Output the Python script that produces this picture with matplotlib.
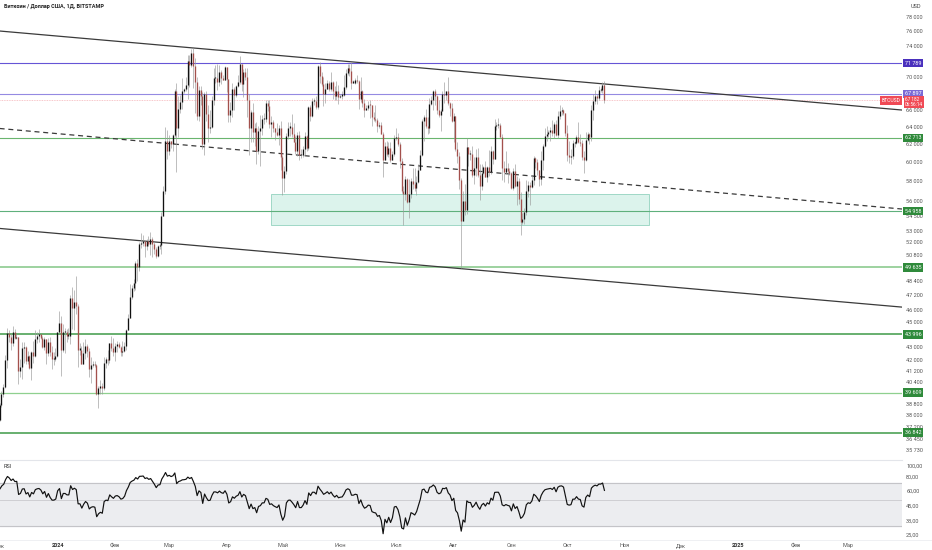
import numpy as np
import pandas as pd
import matplotlib
matplotlib.use("Agg")
import matplotlib.pyplot as plt
import matplotlib.dates as mdates
from matplotlib.patches import Rectangle
from matplotlib.ticker import NullLocator
from matplotlib.transforms import blended_transform_factory

plt.rcParams['font.family'] = ['Roboto', 'DejaVu Sans']

# ---------------- DATA (prices in thousands USD) ----------------
title = "Биткоин / Доллар США, 1Д, BITSTAMP"
first_day = "2023-12-01"

# November 2023 closes (only used to warm up the RSI)
warmup_closes = [35.4, 34.9, 34.7, 35.1, 35.0, 35.0, 35.4, 35.6, 36.7, 37.3, 37.1, 37.1, 36.5, 35.5, 37.8,
                 36.2, 36.6, 36.6, 37.4, 37.5, 35.8, 37.4, 37.3, 37.7, 37.8, 37.5, 37.2, 37.8, 37.9, 37.7]

closes = [
    # Dec 2023
    38.7, 39.5, 40.0, 42.0, 44.1, 43.8, 43.3, 44.2, 43.7, 43.8, 41.2, 41.5, 42.9, 43.0, 41.9, 42.3, 41.4, 42.6, 42.3, 43.6, 43.9, 44.0, 43.7, 43.0, 43.6, 42.5, 43.4, 42.6, 42.1, 42.1, 42.3,
    # Jan 2024
    44.2, 44.9, 42.8, 44.2, 44.2, 43.9, 43.9, 47.0, 46.1, 46.6, 46.3, 42.8, 42.8, 41.7, 42.5, 43.1, 42.7, 41.3, 41.6, 41.7, 41.6, 39.5, 39.9, 40.1, 39.9, 41.8, 42.1, 42.0, 43.3, 42.9, 42.6,
    # Feb
    43.1, 43.2, 43.0, 42.6, 42.7, 43.1, 44.3, 45.3, 47.1, 47.8, 48.3, 50.0, 49.7, 51.8, 51.9, 52.1, 51.6, 52.1, 51.8, 52.3, 51.8, 51.3, 50.7, 51.6, 51.7, 54.5, 57.0, 62.4, 61.2,
    # Mar
    62.4, 62.0, 63.1, 68.3, 63.8, 66.1, 66.9, 68.3, 68.5, 69.0, 72.1, 71.5, 73.1, 71.4, 69.4, 65.3, 68.4, 67.6, 62.0, 67.9, 65.5, 63.8, 64.0, 67.2, 69.9, 69.9, 69.4, 70.7, 69.9, 69.6, 71.3,
    # Apr
    69.7, 65.4, 66.0, 68.5, 67.8, 68.9, 69.4, 71.6, 69.1, 70.6, 70.0, 67.1, 63.9, 65.7, 63.4, 63.8, 61.3, 63.5, 63.8, 64.9, 64.9, 66.8, 66.4, 64.3, 64.5, 63.8, 63.4, 63.1, 63.8, 60.6,
    # May
    58.3, 59.1, 62.9, 63.9, 64.0, 63.2, 62.3, 61.2, 63.1, 60.8, 60.8, 61.5, 62.9, 61.6, 66.3, 65.2, 67.0, 67.0, 66.3, 71.4, 70.1, 69.1, 67.9, 68.5, 69.3, 68.5, 69.4, 68.3, 67.6, 68.3, 67.5,
    # Jun
    67.7, 67.8, 68.8, 70.5, 71.1, 70.8, 69.3, 69.3, 69.6, 69.5, 67.3, 68.2, 66.8, 66.0, 66.2, 66.6, 66.5, 65.1, 64.9, 64.8, 64.1, 64.2, 63.2, 60.3, 61.8, 60.9, 61.6, 60.3, 60.9, 62.7,
    # Jul
    62.8, 62.0, 60.2, 57.0, 56.7, 58.2, 55.9, 56.7, 58.0, 57.7, 57.3, 57.9, 59.2, 60.8, 64.7, 65.1, 64.1, 63.9, 66.7, 67.1, 68.2, 67.6, 65.9, 65.4, 65.8, 67.9, 67.8, 68.3, 66.8, 66.2, 64.6,
    # Aug
    65.3, 61.5, 60.7, 58.1, 54.0, 56.0, 55.1, 61.7, 60.9, 60.9, 58.7, 59.4, 60.6, 58.7, 57.5, 58.9, 59.5, 58.4, 59.5, 59.0, 61.2, 60.4, 64.1, 64.2, 64.2, 62.8, 59.4, 59.0, 59.4, 59.1, 58.9,
    # Sep
    57.3, 59.1, 57.5, 58.0, 56.2, 53.9, 54.2, 54.9, 57.0, 57.6, 57.4, 58.1, 60.5, 60.0, 59.2, 58.2, 60.3, 61.8, 62.9, 63.2, 63.4, 63.6, 63.3, 64.3, 63.1, 65.2, 65.8, 65.9, 65.6, 63.3,
    # Oct
    60.8, 60.6, 60.7, 62.1, 62.1, 62.8, 62.2, 62.1, 60.6, 60.3, 62.5, 63.2, 62.8, 66.0, 67.0, 67.6, 67.4, 68.4, 68.4, 69.0, 67.182,
]

highs = [
    38.9, 39.7, 40.2, 42.4, 44.5, 44.3, 44.0, 44.7, 44.4, 44.0, 43.8, 42.1, 43.4, 43.4, 43.1, 42.7, 42.4, 42.7, 43.5, 44.3, 44.2, 44.4, 44.0, 43.9, 43.8, 43.6, 43.7, 43.8, 43.1, 42.6, 42.9,
    44.2, 45.9, 45.5, 44.8, 44.5, 44.4, 44.5, 47.2, 47.9, 47.7, 48.9, 46.5, 43.3, 43.1, 43.4, 43.6, 43.2, 42.9, 42.2, 41.9, 41.9, 41.7, 40.1, 40.5, 40.3, 42.2, 42.2, 42.8, 43.3, 43.9, 43.7,
    43.3, 43.5, 43.4, 43.1, 43.5, 43.4, 44.4, 45.6, 48.2, 48.1, 48.6, 50.2, 50.4, 52.0, 52.8, 52.6, 52.1, 52.3, 52.5, 52.9, 52.4, 52.0, 51.5, 51.7, 51.9, 54.9, 57.5, 64.0, 63.6,
    63.1, 62.4, 63.2, 68.5, 69.2, 67.6, 67.8, 69.9, 68.6, 70.0, 72.8, 72.9, 73.6, 73.8, 72.4, 70.0, 68.9, 68.9, 68.1, 68.1, 68.2, 66.6, 65.9, 67.6, 71.2, 71.5, 71.7, 71.5, 70.9, 70.3, 71.4,
    71.3, 69.7, 66.9, 69.3, 68.7, 69.0, 70.3, 72.7, 71.7, 71.0, 71.2, 71.2, 67.9, 65.9, 66.8, 64.4, 64.5, 64.1, 65.4, 65.4, 65.6, 67.2, 67.2, 67.1, 65.3, 64.8, 63.9, 64.4, 64.2, 64.7,
    60.8, 59.6, 63.3, 64.5, 64.5, 65.5, 64.4, 62.9, 63.4, 63.5, 61.5, 61.8, 63.4, 63.1, 66.4, 66.6, 67.4, 67.4, 67.7, 71.5, 71.9, 70.6, 70.0, 69.2, 69.6, 69.5, 70.6, 69.5, 68.9, 69.5, 69.0,
    67.9, 68.3, 70.2, 71.0, 71.7, 71.6, 71.9, 69.6, 69.9, 70.2, 69.6, 70.0, 68.4, 67.3, 66.5, 67.0, 67.2, 66.6, 65.7, 66.5, 65.0, 64.5, 64.5, 63.4, 62.3, 62.4, 62.3, 62.2, 61.2, 63.0,
    63.8, 63.3, 62.3, 60.5, 57.5, 58.5, 58.3, 58.2, 58.3, 59.4, 59.4, 58.6, 59.8, 61.4, 64.9, 65.4, 66.1, 65.1, 67.4, 67.6, 68.4, 68.5, 67.8, 67.1, 66.1, 68.2, 69.4, 68.3, 70.0, 66.9, 66.8,
    65.6, 65.0, 62.2, 61.1, 58.3, 57.0, 57.7, 62.7, 61.7, 61.4, 61.8, 60.6, 61.5, 61.6, 59.8, 59.8, 59.6, 60.2, 59.6, 61.4, 61.8, 61.4, 64.9, 64.5, 65.0, 64.4, 63.2, 60.2, 61.2, 59.9, 59.4,
    59.0, 59.4, 59.8, 58.5, 58.3, 56.9, 54.8, 55.3, 58.1, 58.0, 57.9, 58.6, 60.7, 60.6, 60.4, 59.2, 61.3, 62.0, 63.9, 64.1, 63.6, 64.0, 64.8, 64.5, 64.8, 65.8, 66.5, 66.3, 66.1, 65.6,
    64.2, 62.4, 61.5, 62.5, 62.4, 63.0, 64.5, 63.2, 62.5, 61.3, 63.4, 63.4, 63.3, 66.5, 67.9, 68.4, 67.9, 68.9, 68.7, 69.4, 69.5,
]

lows = [
    37.6, 38.6, 39.3, 39.9, 41.4, 43.4, 42.8, 43.1, 43.6, 43.6, 40.2, 40.7, 40.6, 41.8, 41.7, 41.7, 41.3, 40.5, 41.8, 42.2, 43.3, 43.4, 43.6, 42.9, 42.8, 41.7, 42.3, 42.3, 41.3, 41.6, 41.9,
    42.2, 44.2, 40.8, 42.6, 42.5, 43.4, 43.6, 43.2, 44.4, 44.3, 45.6, 41.5, 42.4, 41.7, 41.7, 42.1, 42.2, 40.7, 40.3, 41.5, 41.5, 39.4, 38.5, 39.5, 39.5, 39.8, 41.4, 41.6, 41.8, 42.7, 42.3,
    41.9, 42.6, 42.9, 42.3, 42.3, 42.6, 42.8, 44.3, 45.3, 46.9, 47.6, 47.7, 48.4, 49.3, 51.4, 51.6, 50.6, 51.2, 51.6, 50.8, 50.6, 50.9, 50.5, 50.6, 51.3, 50.9, 54.5, 56.7, 60.4,
    60.8, 61.6, 61.3, 62.8, 59.0, 62.8, 65.6, 66.1, 68.0, 68.2, 67.3, 68.8, 71.3, 68.6, 65.6, 64.8, 64.6, 66.6, 61.5, 60.8, 64.6, 62.3, 63.3, 63.8, 66.6, 69.3, 68.4, 68.9, 69.1, 69.6, 69.6,
    68.1, 64.5, 64.5, 65.1, 66.0, 67.5, 68.8, 69.1, 68.2, 67.5, 69.6, 65.1, 60.8, 62.2, 62.3, 61.8, 59.8, 60.9, 59.6, 63.1, 64.3, 64.5, 65.8, 63.9, 62.8, 63.4, 62.5, 62.9, 61.9, 59.2,
    56.6, 56.9, 58.8, 62.6, 62.9, 62.8, 62.2, 60.9, 60.7, 60.3, 60.5, 60.6, 60.8, 61.2, 61.4, 64.6, 65.1, 66.6, 66.1, 66.1, 69.2, 68.9, 66.4, 66.8, 68.5, 68.3, 68.3, 67.3, 67.2, 67.2, 66.7,
    67.4, 67.3, 67.6, 68.5, 70.2, 70.1, 68.5, 69.2, 69.1, 69.2, 66.1, 66.9, 66.3, 65.1, 65.9, 66.0, 65.0, 64.1, 64.7, 64.5, 63.4, 63.9, 63.2, 58.4, 60.3, 60.7, 60.6, 60.0, 60.4, 60.7,
    62.5, 61.8, 59.4, 56.8, 53.6, 56.1, 55.8, 54.3, 56.3, 57.2, 57.0, 56.6, 57.8, 59.3, 60.7, 62.4, 63.9, 63.2, 63.3, 66.5, 65.9, 66.6, 65.5, 65.1, 63.5, 65.8, 66.8, 67.1, 66.5, 65.3, 64.5,
    62.3, 61.2, 59.9, 57.2, 49.6, 54.0, 54.6, 54.7, 59.6, 60.3, 58.4, 57.7, 58.5, 58.4, 56.1, 57.1, 58.8, 58.4, 57.9, 58.6, 58.8, 59.8, 60.4, 63.6, 63.8, 62.8, 58.1, 57.9, 58.8, 57.8, 58.7,
    57.2, 57.1, 57.4, 55.6, 55.7, 52.6, 53.7, 53.7, 54.6, 56.4, 55.6, 57.3, 57.6, 59.4, 58.7, 57.5, 57.6, 59.2, 61.7, 62.4, 62.8, 62.4, 62.9, 62.7, 62.9, 62.7, 64.9, 65.4, 65.4, 62.9,
    60.2, 59.9, 59.8, 60.4, 61.7, 62.0, 62.1, 61.8, 60.3, 58.9, 60.1, 62.4, 62.0, 62.4, 64.8, 66.7, 66.7, 67.1, 68.1, 68.0, 66.8,
]

# horizontal levels (USD)
purple_levels = [71789, 67897]
green_levels = [62713, 54958, 49635, 43996, 39609, 36842]
last_price = 67182
countdown = "06:56:14"

# trend lines: (start date, start price, end date, end price)
upper_line = ("2023-12-01", 76060, "2025-03-30", 65950)
middle_line = ("2023-12-01", 63790, "2025-03-30", 55160)
lower_line = ("2023-12-01", 53260, "2025-03-30", 46210)

# zone rectangle: (start date, end date, low price, high price)
zone = ("2024-04-25", "2024-11-14", 53590, 56670)

price_ticks = [78000, 76000, 74000, 70000, 66000, 64000, 62000, 60000, 58000, 56000, 54500, 53000, 52000,
               50800, 48400, 47200, 46000, 45000, 43000, 42000, 41200, 40400, 38800, 38000, 37200, 36450, 35730]
rsi_ticks = [100, 80, 60, 45, 33, 25]
month_dates = ["2023-12-01", "2024-01-01", "2024-02-01", "2024-03-01", "2024-04-01", "2024-05-01", "2024-06-01",
               "2024-07-01", "2024-08-01", "2024-09-01", "2024-10-01", "2024-11-01", "2024-12-01", "2025-01-01",
               "2025-02-01", "2025-03-01"]
month_labels = ["Дек", "2024", "Фев", "Мар", "Апр", "Май", "Июн", "Июл", "Авг", "Сен", "Окт", "Ноя", "Дек", "2025",
                "Фев", "Мар"]

# ---------------- PREP ----------------
c = np.array(closes) * 1000
h = np.array(highs) * 1000
l = np.array(lows) * 1000
wc = np.array(warmup_closes) * 1000
o = np.r_[wc[-1], c[:-1]]
dates = pd.date_range(first_day, periods=len(c), freq="D")
x = mdates.date2num(dates)

# RSI (14, Wilder)
allc = np.r_[wc, c]
d = np.diff(allc)
gain = np.where(d > 0, d, 0.0)
loss = np.where(d < 0, -d, 0.0)
n = 14
ag = np.full(len(d), np.nan)
al = np.full(len(d), np.nan)
ag[n - 1] = gain[:n].mean()
al[n - 1] = loss[:n].mean()
for i in range(n, len(d)):
    ag[i] = (ag[i - 1] * (n - 1) + gain[i]) / n
    al[i] = (al[i - 1] * (n - 1) + loss[i]) / n
rsi_all = 100 - 100 / (1 + ag / al)
rsi = rsi_all[len(wc) - 1:]

# ---------------- FIGURE ----------------
W, H = 932, 550
fig = plt.figure(figsize=(W / 100, H / 100), dpi=100)
fig.patch.set_facecolor("white")
plot_w = 902 / W
ax = fig.add_axes([0, 1 - 459.5 / H, plot_w, 459.5 / H])
axr = fig.add_axes([0, 10 / H, plot_w, 80 / H])

jan1 = mdates.date2num(pd.Timestamp("2024-01-01"))
xlim = (jan1 - 30.8, jan1 + 454.0)

for a in (ax, axr):
    a.set_yscale("log")
    a.set_xlim(*xlim)
    for s in a.spines.values():
        s.set_visible(False)
    a.yaxis.set_minor_locator(NullLocator())
    a.yaxis.tick_right()
    a.tick_params(axis="y", length=0, pad=3, labelsize=4, labelcolor="#555555")
    a.set_facecolor("white")

ax.set_ylim(35098, 80439)
ax.set_xticks([])
ax.set_yticks(price_ticks)
ax.set_yticklabels([f"{v:,}".replace(",", " ") for v in price_ticks])

# zone
z0 = mdates.date2num(pd.Timestamp(zone[0]))
z1 = mdates.date2num(pd.Timestamp(zone[1]))
ax.add_patch(Rectangle((z0, zone[2]), z1 - z0, zone[3] - zone[2], facecolor="#dcf3ec",
                       edgecolor="#9fd8c6", lw=0.7, zorder=1))

# horizontal levels
ax.axhline(purple_levels[0], color="#6655d6", lw=0.8, zorder=2)
ax.axhline(purple_levels[1], color="#948ae2", lw=0.8, zorder=2)
ax.axhline(last_price, color="#f6b3b8", lw=0.6, ls=(0, (1, 1)), zorder=2)
green_styles = {62713: ("#6ab56e", 0.8), 54958: ("#5fb07c", 0.8), 49635: ("#8ccb8f", 1.2),
                43996: ("#3f9a48", 1.1), 39609: ("#8fd08f", 0.9), 36842: ("#3f9a48", 1.1)}
for lv in green_levels:
    col, lw = green_styles[lv]
    ax.axhline(lv, color=col, lw=lw, zorder=2)

# trend lines
def tl(spec, **kw):
    xs = [mdates.date2num(pd.Timestamp(spec[0])), mdates.date2num(pd.Timestamp(spec[2]))]
    ax.plot(xs, [spec[1], spec[3]], **kw)

tl(upper_line, color="#3a3a3a", lw=0.9, zorder=3)
tl(lower_line, color="#3a3a3a", lw=0.9, zorder=3)
tl(middle_line, color="#3a3a3a", lw=0.9, ls=(0, (4, 3)), zorder=3)

# candles
hi = np.maximum(h, np.maximum(o, c))
lo = np.minimum(l, np.minimum(o, c))
ax.vlines(x, lo, hi, color="#9a9a9a", lw=0.45, zorder=4)
bl = np.minimum(o, c)
bh = np.maximum(o, c)
thin = bh / bl < 1.002
bh = np.where(thin, bl * 1.002, bh)
up = c >= o
ax.vlines(x[up], bl[up], bh[up], color="#111111", lw=0.95, zorder=5)
ax.vlines(x[~up], bl[~up], bh[~up], color="#a3504c", lw=0.95, zorder=5)

# right-side price labels
tr = blended_transform_factory(ax.transAxes, ax.transData)
def plabel(price, text, fc, ha="left", xpos=1.003, fs=3.9):
    ax.text(xpos, price, text, transform=tr, ha=ha, va="center", fontsize=fs, color="white",
            bbox=dict(boxstyle="square,pad=0.35", fc=fc, ec="none"), zorder=10, clip_on=False)

plabel(purple_levels[0], f"{purple_levels[0]:,}".replace(",", " "), "#4a30bd")
plabel(purple_levels[1], f"{purple_levels[1]:,}".replace(",", " "), "#7a6ad6")
for lv in green_levels:
    plabel(lv, f"{lv:,}".replace(",", " "), "#2f8a3b")
ax.text(1.003, last_price * 0.9955, f"{last_price:,}".replace(",", " ") + "\n" + countdown, transform=tr,
        ha="left", va="center", fontsize=3.4, color="white", linespacing=1.0,
        bbox=dict(boxstyle="square,pad=0.25", fc="#f04a55", ec="none"), zorder=11, clip_on=False)
ax.text(0.9985, last_price * 0.999, "BTCUSD", transform=tr, ha="right", va="center", fontsize=3.6,
        color="white", bbox=dict(boxstyle="square,pad=0.35", fc="#f04a55", ec="none"), zorder=11)

# RSI pane
axr.set_ylim(22.45, 111.9)
axr.axhspan(30, 70, color="#ecedf0", zorder=0)
axr.axhline(70, color="#c4c4c8", lw=0.8, zorder=1)
axr.axhline(30, color="#c4c4c8", lw=0.8, zorder=1)
axr.axhline(50, color="#cfcfd3", lw=0.7, zorder=1)
axr.plot(x, rsi, color="#111111", lw=0.85, zorder=3)
axr.set_yticks(rsi_ticks)
axr.set_yticklabels([f"{v},00" for v in rsi_ticks])
md = mdates.date2num(pd.to_datetime(month_dates))
axr.set_xticks(md)
axr.set_xticklabels(month_labels)
axr.tick_params(axis="x", length=0, pad=2, labelsize=4, labelcolor="#555555")
for lab in axr.get_xticklabels():
    if lab.get_text() in ("2024", "2025"):
        lab.set_fontweight("bold")
        lab.set_color("#333333")

# separators and headings
fig.add_artist(plt.Line2D([0, plot_w], [1 - 460 / H, 1 - 460 / H], color="#e3e5ea", lw=0.8))
fig.add_artist(plt.Line2D([0, 1], [10 / H, 10 / H], color="#eceef1", lw=0.6))
fig.text(4 / W, 1 - 6 / H, title, fontsize=4, fontweight="bold", color="#222222", va="center", ha="left")
fig.text(911 / W, 1 - 6 / H, "USD", fontsize=4, color="#444444", va="center", ha="left")
fig.text(4 / W, 1 - 467 / H, "RSI", fontsize=4, color="#333333", va="center", ha="left")

fig.savefig("out.png", dpi=100, facecolor="white")
